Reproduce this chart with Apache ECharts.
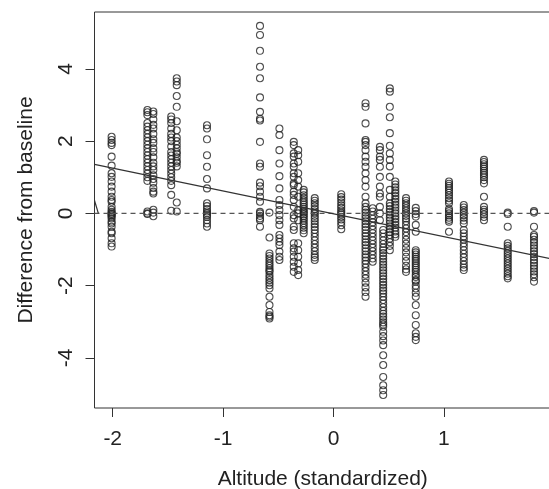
<!DOCTYPE html>
<html>
<head>
<meta charset="utf-8">
<script src="https://cdn.jsdelivr.net/npm/echarts@6/dist/echarts.min.js"></script>
<style>
    html, body { margin: 0; padding: 0; background: #ffffff; }
    #chart { width: 549px; height: 489px; }
</style>
</head>
<body>
<div id="chart"></div>
<script>
// column positions on the altitude axis (standardized)
const columnX = [
    -2.01, -1.686, -1.632, -1.47, -1.42, -1.146, -0.666, -0.58, -0.49, -0.36, -0.32,
    -0.27, -0.17, 0.07, 0.29, 0.355, 0.42, 0.45, 0.51, 0.56, 0.657, 0.745,
    1.046, 1.18, 1.363, 1.578, 1.816,
];

// difference from baseline, one list per column
const colA = [2.12, 2.03, 1.95, 1.89, 1.57, 1.32, 1.11, 1.01, 0.88, 0.74, 0.6, 0.46, 0.37, 0.32, 0.18, 0.1, 0.04, 0, -0.02, -0.05, -0.09, -0.14, -0.23, -0.28, -0.37, -0.51, -0.55, -0.69, -0.83, -0.92];
const colB1 = [2.86, 2.8, 2.72, 2.5, 2.4, 2.3, 2.2, 2.1, 2.0, 1.9, 1.8, 1.7, 1.6, 1.5, 1.4, 1.3, 1.2, 1.1, 1.0, 0.9, 0.05, 0.0, -0.02];
const colB2 = [2.82, 2.75, 2.6, 2.45, 2.35, 2.2, 2.05, 1.95, 1.8, 1.7, 1.55, 1.4, 1.3, 1.2, 1.05, 0.95, 0.85, 0.7, 0.6, 0.55, 0.1, 0.02, -0.08];
const colC1 = [2.68, 2.6, 2.5, 2.35, 2.2, 2.1, 2.0, 1.85, 1.7, 1.6, 1.5, 1.4, 1.3, 1.2, 1.1, 1.0, 0.9, 0.78, 0.51, 0.07];
const colC2 = [3.74, 3.65, 3.55, 3.25, 2.95, 2.55, 2.3, 2.1, 2.0, 1.9, 1.8, 1.7, 1.65, 1.55, 1.45, 1.4, 1.3, 0.3, 0.05];
const colD = [2.44, 2.35, 2.05, 1.61, 1.29, 0.95, 0.69, 0.28, 0.2, 0.12, 0.05, 0, -0.05, -0.1, -0.19, -0.28, -0.37];
const colE = [5.19, 4.94, 4.5, 4.06, 3.74, 3.21, 2.81, 2.62, 2.57, 1.98, 1.38, 1.29, 0.85, 0.75, 0.6, 0.46, 0.32, 0.04, 0.0, -0.07, -0.14, -0.19, -0.37];
const colE2 = [0.02, -0.67, -1.11, -1.18, -1.25, -1.32, -1.39, -1.45, -1.52, -1.58, -1.62, -1.71, -1.78, -1.85, -1.92, -1.99, -2.08, -2.31, -2.54, -2.73, -2.82, -2.86, -2.91];
const colF = [2.35, 2.17, 1.75, 1.38, 1.03, 0.69, 0.37, 0.23, 0.09, -0.05, -0.19, -0.32, -0.6, -0.69, -0.79, -0.88, -1.06, -1.2, -1.29];
const colG1 = [1.98, 1.89, 1.66, 1.57, 1.38, 1.29, 1.11, 1.01, 0.83, 0.78, 0.6, 0.51, 0.37, 0.18, -0.05, -0.14, -0.37, -0.46, -0.83, -0.97, -1.06, -1.2, -1.34, -1.48, -1.62];
const colG2 = [1.75, 1.61, 1.43, 1.11, 0.92, 0.74, 0.46, 0.09, 0, -0.19, -0.83, -1.02, -1.2, -1.39, -1.57, -1.71];
const colH = [0.65, 0.58, 0.5, 0.43, 0.36, 0.3, 0.24, 0.18, 0.12, 0.06, 0.02, -0.03, -0.08, -0.14, -0.2, -0.27, -0.33, -0.4, -0.47, -0.55];
const colI = [0.42, 0.35, 0.28, 0.2, 0.12, 0.05, 0, -0.07, -0.14, -0.22, -0.3, -0.38, -0.46, -0.55, -0.65, -0.75, -0.85, -0.95, -1.05, -1.15, -1.22, -1.29];
const colJ = [0.53, 0.45, 0.38, 0.3, 0.22, 0.15, 0.08, 0.02, -0.03, -0.1, -0.17, -0.25, -0.33, -0.44];
const colK = [3.05, 2.95, 2.49, 2.03, 1.98, 1.89, 1.75, 1.57, 1.43, 1.29, 1.11, 0.92, 0.74, 0.46, 0.28, 0.18, 0.1, 0.02, -0.06, -0.14, -0.22, -0.3, -0.38, -0.46, -0.55, -0.63, -0.72, -0.8, -0.88, -0.97, -1.05, -1.14, -1.22, -1.31, -1.4, -1.5, -1.6, -1.7, -1.8, -1.92, -2.05, -2.18, -2.31];
const colL = [0.14, 0.05, -0.05, -0.15, -0.25, -0.35, -0.45, -0.55, -0.65, -0.75, -0.85, -0.95, -1.05, -1.15, -1.25, -1.34];
const colM = [1.84, 1.75, 1.57, 1.48, 1.29, 1.01, 0.74, 0.55, 0.46, 0.18, 0, -0.19];
const colN = [-0.46, -0.55, -0.65, -0.75, -0.85, -0.95, -1.02, -1.1, -1.18, -1.26, -1.34, -1.42, -1.5, -1.58, -1.66, -1.74, -1.82, -1.9, -1.98, -2.06, -2.14, -2.22, -2.31, -2.4, -2.5, -2.6, -2.7, -2.78, -2.86, -2.94, -3.02, -3.08, -3.14, -3.28, -3.4, -3.52, -3.65, -3.93, -4.2, -4.53, -4.76, -4.9, -5.03];
const colO = [3.46, 3.37, 2.95, 2.66, 2.22, 1.87, 1.66, 1.48, 1.3, 1.01, 0.65, 0.46, 0.28, 0.2, 0.12, 0.04, -0.04, -0.12, -0.2, -0.28, -0.36, -0.44, -0.52, -0.6, -0.7, -0.8, -0.9, -1.02];
const colP = [0.88, 0.8, 0.72, 0.64, 0.56, 0.48, 0.4, 0.32, 0.24, 0.16, 0.08, 0.0, -0.08, -0.16, -0.24, -0.32, -0.4, -0.5, -0.58, -0.65];
const colR = [0.42, 0.35, 0.28, 0.21, 0.14, 0.07, 0.0, -0.07, -0.14, -0.22, -0.32, -0.42, -0.52, -0.62, -0.73, -0.84, -0.96, -1.08, -1.2, -1.32, -1.45, -1.55, -1.62];
const colS = [0.15, 0.06, -0.02, -0.09, -0.32, -0.51, -1.02, -1.08, -1.14, -1.2, -1.26, -1.32, -1.38, -1.44, -1.5, -1.56, -1.62, -1.7, -1.76, -1.85, -1.89, -2.0, -2.08, -2.2, -2.31, -2.54, -2.82, -3.09, -3.32, -3.42, -3.51];
const colT = [0.88, 0.82, 0.76, 0.7, 0.64, 0.57, 0.5, 0.42, 0.35, 0.28, 0.12, 0.06, 0.0, -0.06, -0.12, -0.18, -0.23, -0.51];
const colU = [0.23, 0.16, 0.09, 0.02, -0.05, -0.12, -0.2, -0.28, -0.46, -0.55, -0.64, -0.73, -0.83, -0.92, -1.02, -1.12, -1.22, -1.32, -1.42, -1.5, -1.57];
const colV = [1.48, 1.42, 1.36, 1.3, 1.24, 1.18, 1.12, 1.06, 1.0, 0.92, 0.83, 0.46, 0.18, 0.1, 0.04, -0.03, -0.1, -0.19];
const colW = [0.02, -0.02, -0.37, -0.83, -0.9, -0.97, -1.04, -1.11, -1.18, -1.25, -1.32, -1.39, -1.46, -1.53, -1.6, -1.67, -1.74, -1.8];
const colX = [0.06, 0.02, -0.37, -0.6, -0.65, -0.73, -0.81, -0.89, -0.97, -1.05, -1.13, -1.21, -1.29, -1.37, -1.45, -1.53, -1.61, -1.69, -1.77, -1.89];

const columnY = [
    colA, colB1, colB2, colC1, colC2, colD, colE, colE2, colF, colG1, colG2,
    colH, colI, colJ, colK, colL, colM, colN, colO, colP, colR, colS,
    colT, colU, colV, colW, colX,
];

// fitted line and the short curve piece at the left edge
const fitLine = [[-2.165, 1.357], [1.97, -1.256]];
const edgeCurve = [[-2.165, 0.355], [-2.13, 0.0]];
const baseline = [[-2.165, 0], [1.97, 0]];

const xTicks = [-2, -1, 0, 1];
const yTicks = [-4, -2, 0, 2, 4];

function buildPoints() {
    const points = [];
    columnX.forEach((x, i) => {
        columnY[i].forEach((y) => points.push([x, y]));
    });
    return points;
}

const textColor = "#222";
const font = "Liberation Sans, Arial, sans-serif";

const chart = echarts.init(document.getElementById("chart"));
chart.setOption({
    animation: false,
    backgroundColor: "#ffffff",
    grid: {
        left: 94.5,
        top: 12,
        width: 456.5,
        height: 396,
        show: true,
        borderColor: "#333",
        borderWidth: 1,
        containLabel: false,
        outerBoundsMode: "none",
    },
    xAxis: {
        type: "value",
        min: -2.165,
        max: 1.97,
        name: "Altitude (standardized)",
        nameLocation: "middle",
        nameGap: 61,
        nameTextStyle: { color: textColor, fontSize: 21, fontFamily: font },
        axisLine: { show: false, onZero: false },
        splitLine: { show: false },
        axisTick: {
            show: true,
            inside: false,
            length: 9,
            customValues: xTicks,
            lineStyle: { color: "#333" },
        },
        axisLabel: {
            customValues: xTicks,
            margin: 21,
            color: textColor,
            fontSize: 21,
            fontFamily: font,
            formatter: (v) => String(v),
        },
    },
    yAxis: {
        type: "value",
        min: -5.39,
        max: 5.575,
        name: "Difference from baseline",
        nameLocation: "middle",
        nameGap: 58,
        nameRotate: 90,
        nameTextStyle: { color: textColor, fontSize: 21, fontFamily: font },
        axisLine: { show: false, onZero: false },
        splitLine: { show: false },
        axisTick: {
            show: true,
            inside: false,
            length: 9,
            customValues: yTicks,
            lineStyle: { color: "#333" },
        },
        axisLabel: {
            customValues: yTicks,
            rotate: 90,
            margin: 18,
            color: textColor,
            fontSize: 21,
            fontFamily: font,
            formatter: (v) => String(v),
        },
    },
    series: [
        {
            type: "scatter",
            data: buildPoints(),
            symbol: "circle",
            symbolSize: 7,
            silent: true,
            itemStyle: {
                color: "rgba(0,0,0,0)",
                borderColor: "#222",
                borderWidth: 1.1,
            },
        },
        {
            type: "line",
            data: baseline,
            symbol: "none",
            silent: true,
            lineStyle: { color: "#555", width: 1.2, type: [5, 4] },
        },
        {
            type: "line",
            data: fitLine,
            symbol: "none",
            silent: true,
            lineStyle: { color: "#333", width: 1.2 },
        },
        {
            type: "line",
            data: edgeCurve,
            symbol: "none",
            silent: true,
            lineStyle: { color: "#333", width: 1.2 },
        },
    ],
});
</script>
</body>
</html>
